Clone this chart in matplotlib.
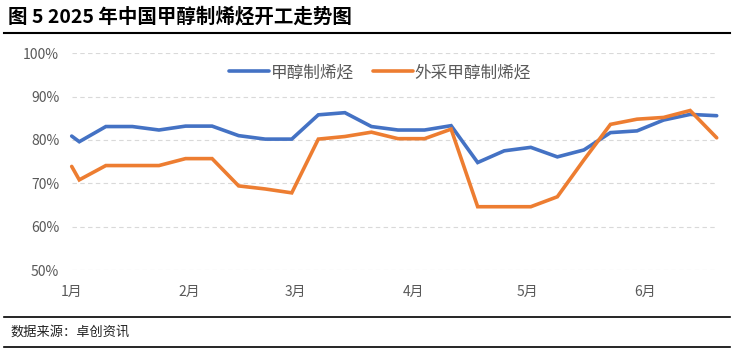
import matplotlib
matplotlib.use("Agg")
import matplotlib.pyplot as plt
from matplotlib.lines import Line2D
import numpy as np

plt.rcParams['font.family'] = ['Noto Sans CJK SC', 'DejaVu Sans']

# Days since 2025-01-01 for each weekly observation
days = [0, 2, 9, 16, 23, 30, 37, 44, 51, 58, 65, 72, 79, 86, 93, 100,
        107, 114, 121, 128, 135, 142, 149, 156, 163, 170]
mto = [80.9, 79.6, 83.1, 83.1, 82.3, 83.2, 83.2, 81.0, 80.2, 80.2, 85.8, 86.3,
       83.1, 82.3, 82.3, 83.3, 74.8, 77.5, 78.3, 76.1, 77.7, 81.7, 82.1, 84.6,
       85.9, 85.6]
mto_ext = [73.9, 70.8, 74.1, 74.1, 74.1, 75.7, 75.7, 69.4, 68.7, 67.8, 80.2, 80.8,
           81.8, 80.3, 80.3, 82.5, 64.6, 64.6, 64.6, 66.9, 75.4, 83.6, 84.8, 85.2,
           86.8, 80.5]
month_days = [0, 31, 59, 90, 120, 151]
month_labels = ['1月', '2月', '3月', '4月', '5月', '6月']
y_ticks = [50, 60, 70, 80, 90, 100]
series_names = ['甲醇制烯烃', '外采甲醇制烯烃']

W, H = 734, 352
fig = plt.figure(figsize=(W / 100, H / 100), dpi=100)
ax = fig.add_axes([71.7 / W, 1 - 270 / H, (716.7 - 71.7) / W, (270 - 53.3) / H])

blue = '#4472C4'
orange = '#ED7D31'
l1, = ax.plot(days, mto, color=blue, lw=2.6, solid_capstyle='round', solid_joinstyle='miter', clip_on=False)
l2, = ax.plot(days, mto_ext, color=orange, lw=2.6, solid_capstyle='round', solid_joinstyle='miter', clip_on=False)

ax.set_xlim(days[0], days[-1])
ax.set_ylim(50, 100)
ax.set_yticks(y_ticks)
ax.set_yticklabels([f'{v}%' for v in y_ticks])
ax.set_xticks(month_days)
ax.set_xticklabels(month_labels)
for s in ax.spines.values():
    s.set_visible(False)
ax.grid(axis='y', color='#D9D9D9', lw=0.8, ls=(0, (4, 3)))
ax.set_axisbelow(True)
ax.tick_params(axis='both', length=0, labelsize=10, colors='#595959')
ax.tick_params(axis='y', pad=9)
ax.tick_params(axis='x', pad=11)

leg = ax.legend([l1, l2], series_names, loc='upper center', bbox_to_anchor=(0.478, 1.02),
                ncol=2, frameon=False, fontsize=12, handlelength=2.4, handletextpad=0.1,
                columnspacing=1.1, labelcolor='#595959')

# Title and frame lines
fig.text(8 / W, 1 - 17 / H, '图 5 2025 年中国甲醇制烯烃开工走势图', fontsize=14,
         fontweight='bold', va='center', ha='left', color='black')
fig.add_artist(Line2D([4 / W, 730 / W], [1 - 33 / H, 1 - 33 / H], color='black', lw=1.5))
fig.add_artist(Line2D([4 / W, 730 / W], [1 - 316.7 / H, 1 - 316.7 / H], color='black', lw=1.2))
fig.add_artist(Line2D([4 / W, 730 / W], [1 - 347.3 / H, 1 - 347.3 / H], color='black', lw=1.2))
fig.text(10 / W, 1 - 332 / H, '数据来源：卓创资讯', fontsize=9.5, va='center', ha='left', color='#222222')

fig.savefig('out.png', dpi=100)
